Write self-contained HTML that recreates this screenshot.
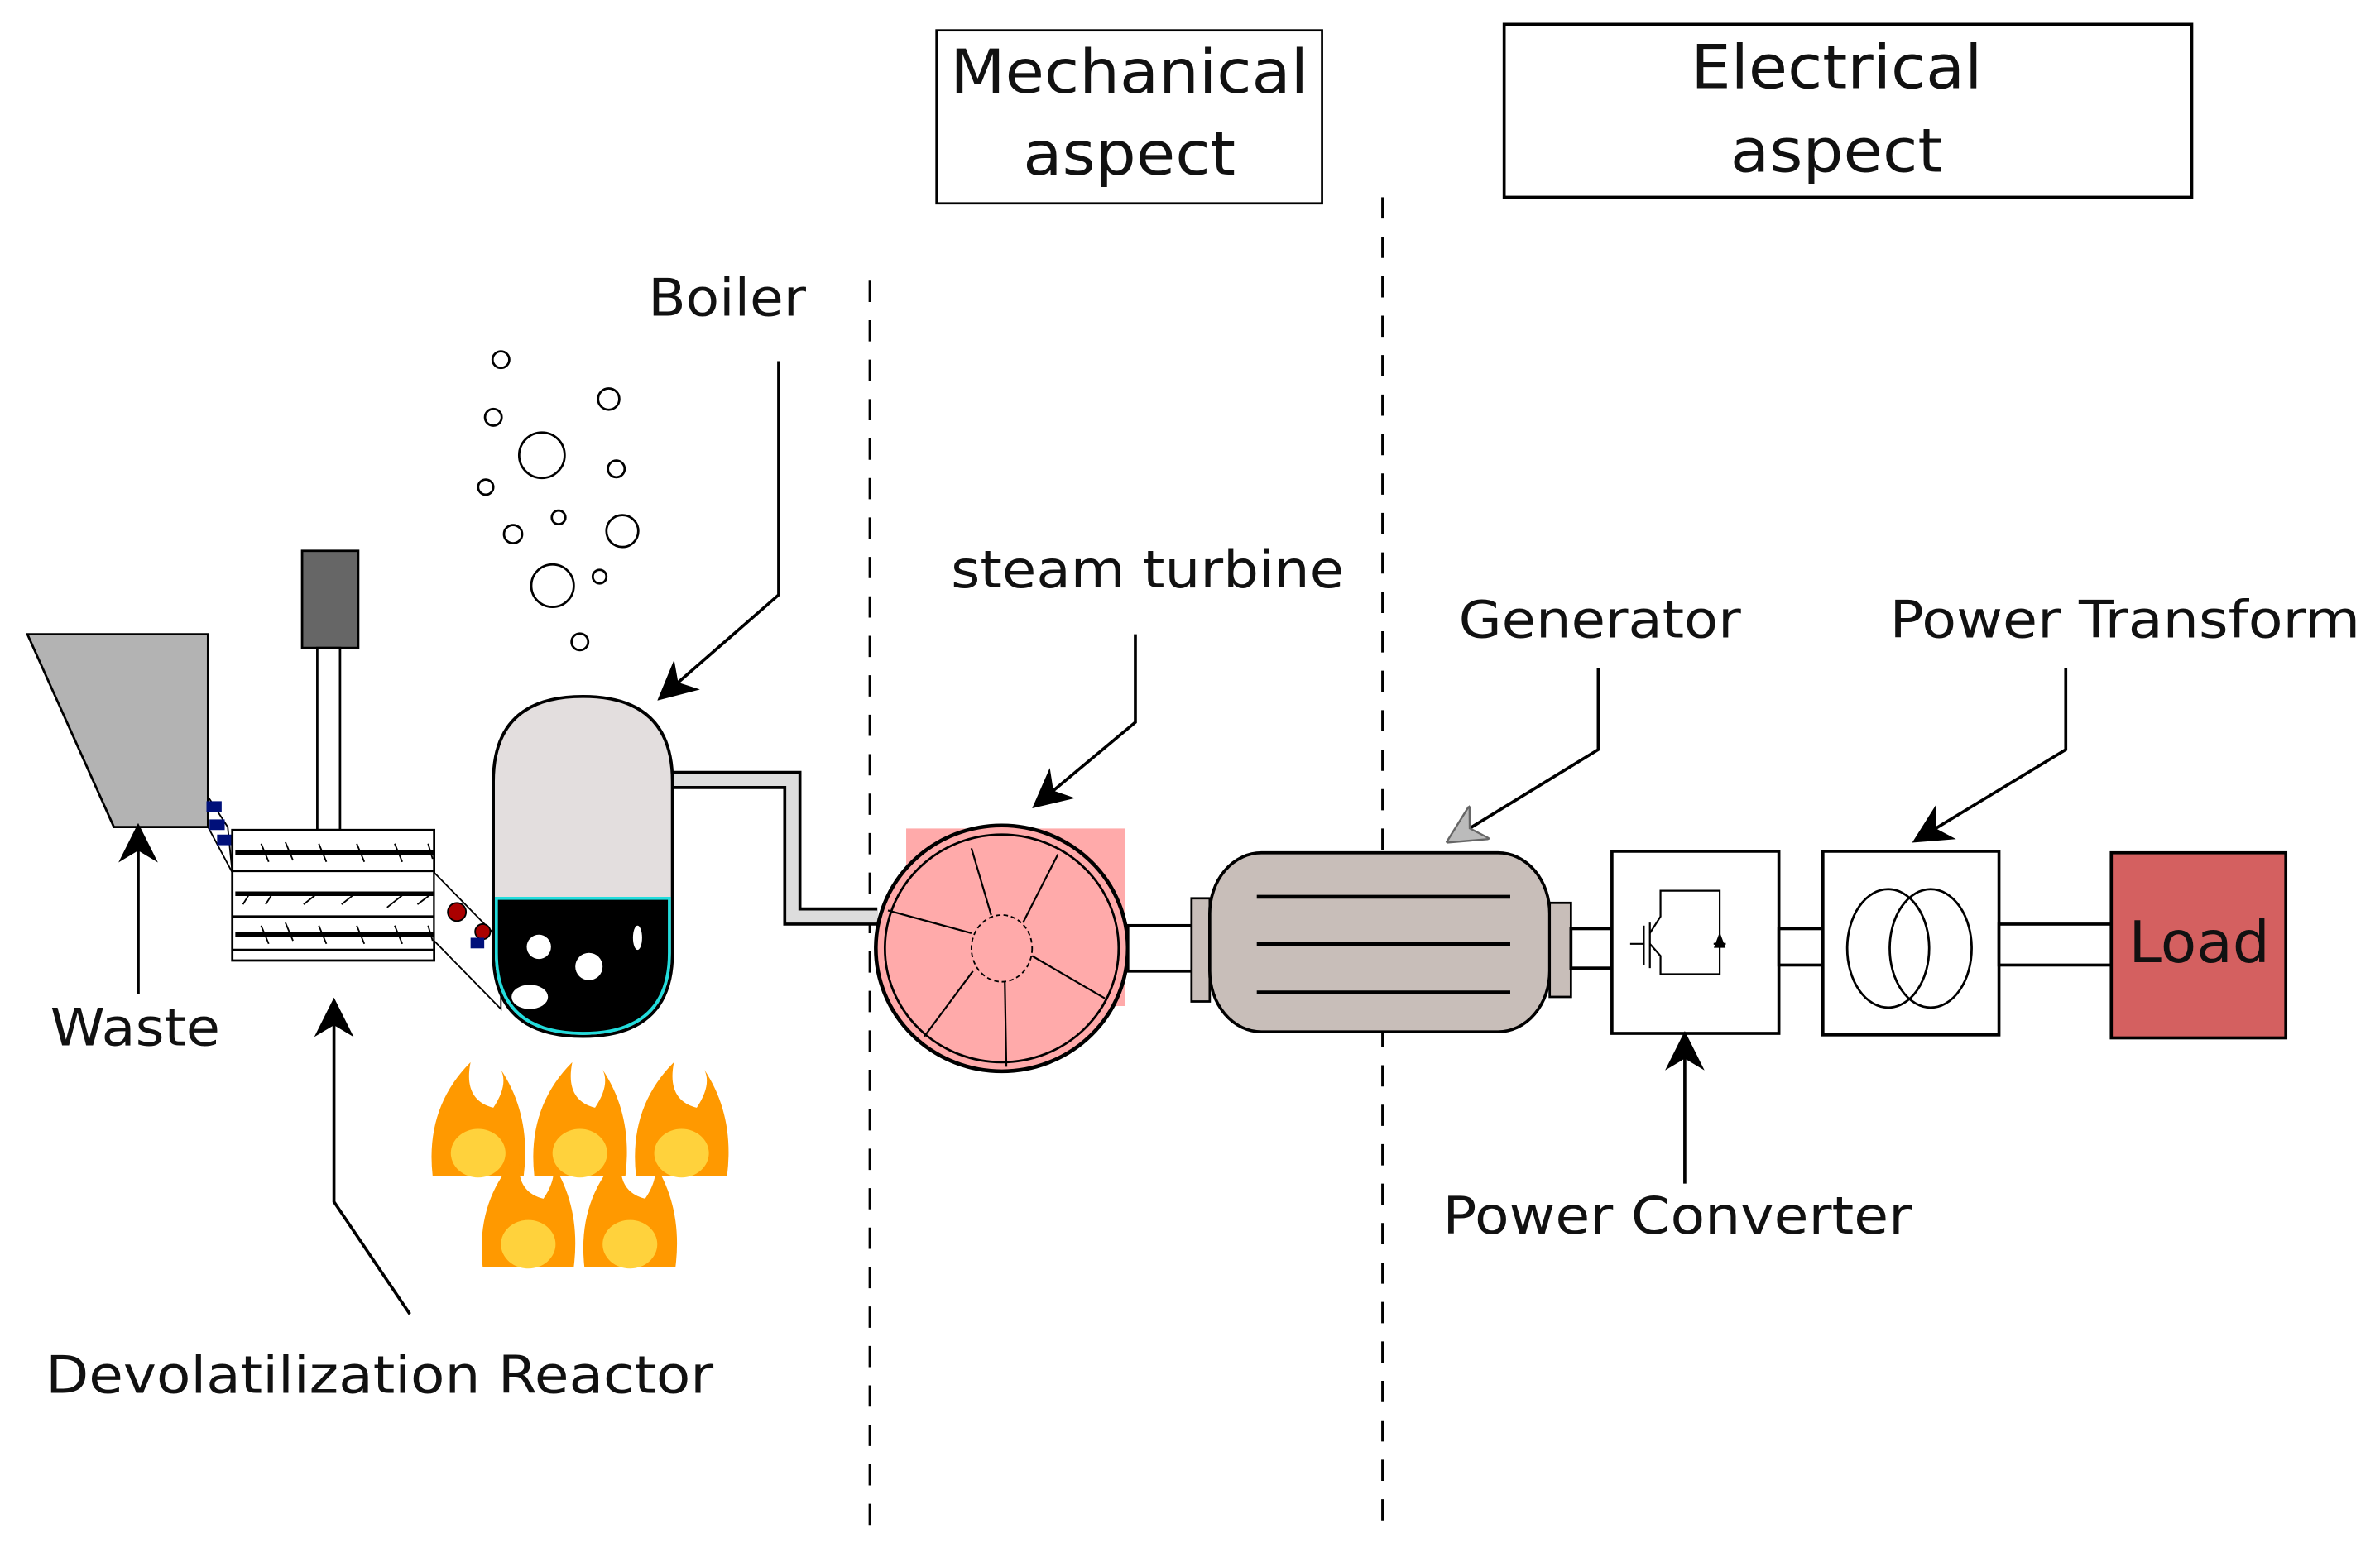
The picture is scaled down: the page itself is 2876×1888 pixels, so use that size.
<!DOCTYPE html>
<html><head><meta charset="utf-8"><style>
html,body{margin:0;padding:0;background:#fff;}
svg{display:block;}
text{font-family:"DejaVu Sans","Liberation Sans",sans-serif;fill:#111;}
</style></head><body>
<svg width="2876" height="1888" viewBox="0 0 1568 1029.4" xmlns="http://www.w3.org/2000/svg">
<defs>
<marker id="ahb" viewBox="0 0 10 10" refX="9" refY="5" markerWidth="26" markerHeight="26" orient="auto" markerUnits="userSpaceOnUse">
<path d="M0,0 L10,5 L0,10 L3,5 z" fill="#000"/></marker>
<marker id="ahg" viewBox="0 0 10 10" refX="9" refY="5" markerWidth="26" markerHeight="26" orient="auto" markerUnits="userSpaceOnUse">
<path d="M0,0 L10,5 L0,10 L3,5 z" fill="#bbb" stroke="#666" stroke-width="0.5"/></marker>
</defs>

<!-- header boxes -->
<rect x="617" y="20" width="254" height="114" fill="none" stroke="#000" stroke-width="1.5"/>
<text x="744" y="61" font-size="40" text-anchor="middle" textLength="236" lengthAdjust="spacingAndGlyphs">Mechanical</text>
<text x="744" y="115" font-size="40" text-anchor="middle" textLength="140" lengthAdjust="spacingAndGlyphs">aspect</text>
<rect x="991" y="16" width="453" height="114" fill="none" stroke="#000" stroke-width="2"/>
<text x="1210" y="58" font-size="40" text-anchor="middle" textLength="192" lengthAdjust="spacingAndGlyphs">Electrical</text>
<text x="1210" y="113" font-size="40" text-anchor="middle" textLength="140" lengthAdjust="spacingAndGlyphs">aspect</text>

<!-- dashed lines -->
<line x1="573" y1="185" x2="573" y2="1010" stroke="#000" stroke-width="1.5" stroke-dasharray="14,12"/>
<line x1="911" y1="130" x2="911" y2="1010" stroke="#000" stroke-width="2" stroke-dasharray="14,12"/>

<!-- hopper -->
<polygon points="18,418 137,418 137,545 75,545" fill="#b3b3b3" stroke="#000" stroke-width="1.5"/>
<polygon points="137,525 150,545 153,575 137,545" fill="#fff" stroke="#000" stroke-width="1"/>
<rect x="136" y="528" width="10" height="7" fill="#00107a"/>
<rect x="138" y="540" width="10" height="7" fill="#00107a"/>
<rect x="143" y="550" width="10" height="7" fill="#00107a"/>
<!-- motor -->
<rect x="199" y="363" width="37" height="64" fill="#666" stroke="#000" stroke-width="1.5"/>
<rect x="209" y="427" width="15" height="120" fill="#fff" stroke="#000" stroke-width="1.5"/>
<!-- reactor -->
<rect x="153" y="547" width="133" height="86" fill="#fff" stroke="#000" stroke-width="1.5"/>
<line x1="153" y1="574" x2="286" y2="574" stroke="#000" stroke-width="1.5"/>
<line x1="153" y1="604" x2="286" y2="604" stroke="#000" stroke-width="1.5"/>
<line x1="153" y1="626" x2="286" y2="626" stroke="#000" stroke-width="1.5"/>
<line x1="155" y1="562" x2="286" y2="562" stroke="#000" stroke-width="3"/>
<line x1="155" y1="589" x2="286" y2="589" stroke="#000" stroke-width="3"/>
<line x1="155" y1="616" x2="286" y2="616" stroke="#000" stroke-width="3"/>
<g stroke="#000" stroke-width="1">
<path d="M172,556l5,12M188,555l5,12M210,556l5,12M235,556l5,12M260,556l5,12M282,556l3,10M172,610l5,12M188,608l5,12M210,610l5,12M235,610l5,12M260,610l5,12M282,610l3,10M160,596l5,-8M175,596l5,-8M200,596l10,-8M225,596l10,-8M255,598l10,-8M275,596l8,-6"/>
</g>
<!-- chute to boiler -->
<polygon points="286,575 330,620 330,665 286,620" fill="#fff" stroke="#000" stroke-width="1"/>
<circle cx="301" cy="601" r="6" fill="#a00" stroke="#000"/>
<circle cx="318" cy="614" r="5" fill="#a00" stroke="#000"/>
<rect x="310" y="618" width="9" height="7" fill="#00107a"/>

<!-- bubbles -->
<g fill="none" stroke="#000" stroke-width="1.5">
<circle cx="330" cy="237" r="5.5"/><circle cx="401" cy="263" r="7"/><circle cx="325" cy="275" r="5.5"/>
<circle cx="357" cy="300" r="15"/><circle cx="406" cy="309" r="5.5"/><circle cx="320" cy="321" r="5"/>
<circle cx="368" cy="341" r="4.5"/><circle cx="338" cy="352" r="6"/><circle cx="410" cy="350" r="10.5"/>
<circle cx="364" cy="386" r="14"/><circle cx="395" cy="380" r="4.5"/><circle cx="382" cy="423" r="5.5"/>
</g>

<!-- boiler -->
<path d="M443,514 L522,514 L522,604 L578,604" fill="none" stroke="#000" stroke-width="12"/>
<path d="M443,514 L522,514 L522,604 L578,604" fill="none" stroke="#ddd" stroke-width="8"/>
<path d="M325,515 Q325,459 384,459 Q443,459 443,515 L443,628 Q443,683 384,683 Q325,683 325,628 Z" fill="#e3dede" stroke="#000" stroke-width="2"/>
<path d="M327,592 L441,592 L441,628 Q441,681 384,681 Q327,681 327,628 Z" fill="#000" stroke="#2dd" stroke-width="2"/>
<g fill="#fff"><circle cx="355" cy="624" r="8"/><circle cx="388" cy="637" r="9"/><ellipse cx="349" cy="657" rx="12" ry="8"/><ellipse cx="420" cy="618" rx="3" ry="8"/></g>

<!-- flames -->
<g>
<path d="M285,775 Q280,730 310,700 Q305,725 325,730 Q335,715 330,705 Q350,735 345,775 Z" fill="#f90"/>
<path d="M352,775 Q347,730 377,700 Q372,725 392,730 Q402,715 397,705 Q417,735 412,775 Z" fill="#f90"/>
<path d="M419,775 Q414,730 444,700 Q439,725 459,730 Q469,715 464,705 Q484,735 479,775 Z" fill="#f90"/>
<path d="M318,835 Q313,790 343,760 Q338,785 358,790 Q368,775 363,765 Q383,795 378,835 Z" fill="#f90"/>
<path d="M385,835 Q380,790 410,760 Q405,785 425,790 Q435,775 430,765 Q450,795 445,835 Z" fill="#f90"/>
<g fill="#ffd23c"><ellipse cx="315" cy="760" rx="18" ry="16"/><ellipse cx="382" cy="760" rx="18" ry="16"/><ellipse cx="449" cy="760" rx="18" ry="16"/><ellipse cx="348" cy="820" rx="18" ry="16"/><ellipse cx="415" cy="820" rx="18" ry="16"/></g>
</g>

<!-- turbine -->
<rect x="597" y="546" width="144" height="117" fill="#ffaaaa"/>
<ellipse cx="660" cy="625" rx="83" ry="81" fill="#ffaaaa" stroke="#000" stroke-width="2.5"/>
<ellipse cx="660" cy="625" rx="77" ry="75" fill="none" stroke="#000" stroke-width="1.5"/>
<ellipse cx="660" cy="625" rx="20" ry="22" fill="none" stroke="#000" stroke-width="1" stroke-dasharray="3,2"/>
<g stroke="#000" stroke-width="1.2">
<line x1="653" y1="603" x2="640" y2="559"/><line x1="674" y1="608" x2="697" y2="563"/>
<line x1="640" y1="615" x2="585" y2="600"/><line x1="680" y1="630" x2="728" y2="658"/>
<line x1="641" y1="640" x2="609" y2="683"/><line x1="662" y1="647" x2="663" y2="703"/>
</g>
<!-- shafts -->
<rect x="743" y="610" width="43" height="30" fill="#fff" stroke="#000" stroke-width="2"/>
<rect x="785" y="592" width="12" height="68" fill="#c8beb9" stroke="#000" stroke-width="1.5"/>
<rect x="797" y="562" width="224" height="118" rx="34" ry="40" fill="#c8beb9" stroke="#000" stroke-width="2"/>
<g stroke="#000" stroke-width="2.5"><line x1="828" y1="591" x2="995" y2="591"/><line x1="828" y1="622" x2="995" y2="622"/><line x1="828" y1="654" x2="995" y2="654"/></g>
<rect x="1021" y="595" width="14" height="62" fill="#c8beb9" stroke="#000" stroke-width="1.5"/>
<rect x="1035" y="612" width="27" height="26" fill="#fff" stroke="#000" stroke-width="2"/>
<rect x="1062" y="561" width="110" height="120" fill="#fff" stroke="#000" stroke-width="2"/>
<g stroke="#000" stroke-width="1.2" fill="none">
<line x1="1074" y1="622" x2="1083" y2="622"/><line x1="1083" y1="610" x2="1083" y2="636"/><line x1="1087" y1="608" x2="1087" y2="638"/>
<path d="M1087,615 L1094,604 L1094,587 L1133,587 L1133,642 L1094,642 L1094,630 L1087,622"/>
<line x1="1129" y1="622" x2="1137" y2="622"/><path d="M1133,616 L1130,624 L1136,624 Z" fill="#000"/>
</g>
<rect x="1172" y="612" width="29" height="24" fill="#fff" stroke="#000" stroke-width="2"/>
<rect x="1201" y="561" width="116" height="121" fill="#fff" stroke="#000" stroke-width="2"/>
<ellipse cx="1244" cy="625" rx="27" ry="39" fill="none" stroke="#000" stroke-width="1.5"/>
<ellipse cx="1272" cy="625" rx="27" ry="39" fill="none" stroke="#000" stroke-width="1.5"/>
<rect x="1317" y="609" width="74" height="27" fill="#fff" stroke="#000" stroke-width="2"/>
<rect x="1391" y="562" width="115" height="122" fill="#d46060" stroke="#000" stroke-width="2"/>
<text x="1449" y="634" font-size="38" text-anchor="middle" textLength="93" lengthAdjust="spacingAndGlyphs">Load</text>

<!-- labels -->
<text x="479" y="208" font-size="34" text-anchor="middle" textLength="104" lengthAdjust="spacingAndGlyphs">Boiler</text>
<text x="756" y="387" font-size="34" text-anchor="middle" textLength="259" lengthAdjust="spacingAndGlyphs">steam turbine</text>
<text x="1054" y="420" font-size="34" text-anchor="middle" textLength="186" lengthAdjust="spacingAndGlyphs">Generator</text>
<text x="1400" y="420" font-size="34" text-anchor="middle" textLength="310" lengthAdjust="spacingAndGlyphs">Power Transform</text>
<text x="1105" y="813" font-size="34" text-anchor="middle" textLength="309" lengthAdjust="spacingAndGlyphs">Power Converter</text>
<text x="89" y="689" font-size="34" text-anchor="middle" textLength="112" lengthAdjust="spacingAndGlyphs">Waste</text>
<text x="250" y="918" font-size="34" text-anchor="middle" textLength="440" lengthAdjust="spacingAndGlyphs">Devolatilization Reactor</text>

<!-- arrows -->
<g fill="none" stroke="#000" stroke-width="2">
<path d="M513,238 L513,392 L435,460" marker-end="url(#ahb)"/>
<path d="M748,418 L748,476 L682,531" marker-end="url(#ahb)"/>
<path d="M1053,440 L1053,494 L955,554" marker-end="url(#ahg)"/>
<path d="M1361,440 L1361,494 L1262,554" marker-end="url(#ahb)"/>
<path d="M1110,780 L1110,682" marker-end="url(#ahb)"/>
<path d="M91,655 L91,545" marker-end="url(#ahb)"/>
<path d="M270,866 L220,792 L220,660" marker-end="url(#ahb)"/>
</g>
</svg>
</body></html>
